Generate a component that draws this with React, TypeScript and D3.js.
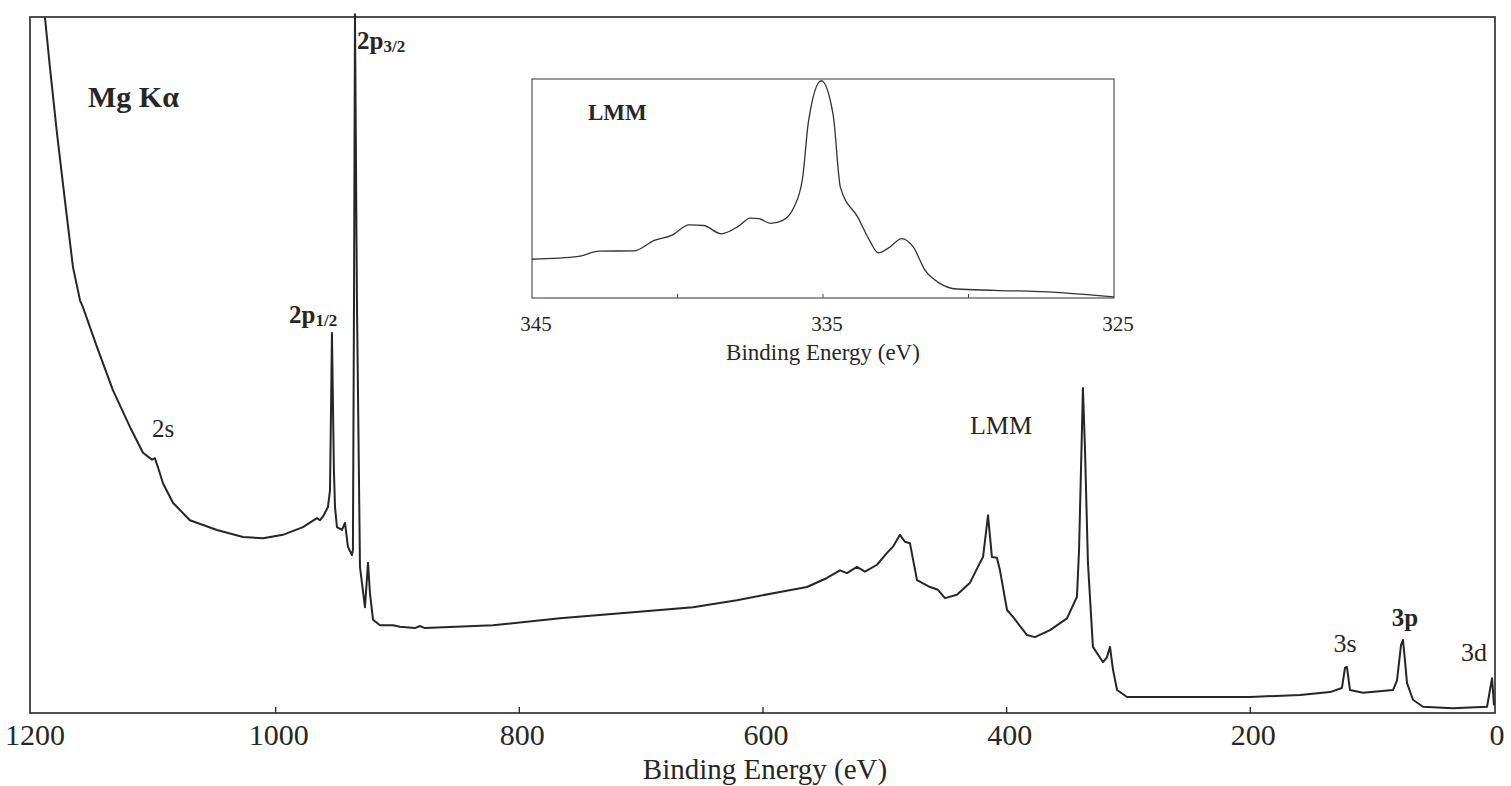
import React from "react";
import * as d3 from "d3";

// survey spectrum, binding energy (eV) vs intensity (arb., 0 = axis, 100 = frame top)
const energy = [
  1189.4, 1185.3, 1179.5, 1173.0, 1166.4, 1160.6, 1158.2, 1146.7, 1133.6, 1119.6,
  1108.9, 1101.5, 1099.1, 1096.6, 1092.5, 1084.3, 1070.4, 1048.2, 1026.8, 1010.4,
  994.0, 977.6, 966.1, 963.6, 961.2, 957.1, 955.4, 953.8, 952.2, 951.3,
  949.7, 945.6, 943.1, 940.7, 937.4, 936.6, 935.7, 934.9, 933.3, 930.8,
  926.7, 924.2, 922.6, 920.1, 914.4, 903.7, 898.0, 885.7, 881.6, 877.5,
  821.6, 766.6, 711.7, 657.5, 621.4, 586.1, 563.9, 547.5, 536.8, 531.1,
  522.9, 516.3, 506.4, 498.2, 493.3, 487.6, 483.5, 479.4, 473.6, 462.9,
  456.4, 450.6, 440.8, 430.1, 421.9, 419.4, 415.3, 412.1, 408.0, 405.5,
  399.7, 394.8, 383.3, 376.8, 364.4, 350.5, 342.3, 340.6, 339.0, 337.4,
  335.7, 333.3, 329.2, 320.9, 317.7, 315.2, 312.7, 309.4, 301.2, 241.3,
  200.3, 159.2, 134.6, 124.8, 122.3, 120.7, 118.2, 107.5, 82.9, 79.6,
  76.3, 74.7, 73.1, 71.4, 66.5, 58.3, 33.7, 5.7, 3.3, 1.6, 0,
];
const intensity = [
  100.0, 92.8, 83.3, 73.7, 64.1, 59.3, 58.3, 52.6, 46.4, 41.1,
  37.4, 36.4, 36.6, 35.3, 33.0, 30.2, 27.7, 26.3, 25.3, 25.1,
  25.6, 26.7, 28.0, 27.7, 28.2, 29.6, 32.0, 54.6, 34.9, 29.6,
  26.7, 26.3, 27.3, 23.9, 22.7, 23.4, 59.3, 100.4, 59.3, 21.0,
  15.2, 21.6, 17.2, 13.4, 12.6, 12.6, 12.4, 12.2, 12.5, 12.2,
  12.6, 13.6, 14.4, 15.2, 16.2, 17.4, 18.1, 19.4, 20.5, 20.1,
  21.0, 20.3, 21.3, 23.0, 23.9, 25.6, 24.6, 24.4, 19.1, 18.1,
  17.7, 16.5, 17.0, 18.7, 21.6, 22.4, 28.4, 22.4, 22.3, 20.5,
  14.8, 13.8, 11.2, 10.9, 11.9, 13.6, 16.7, 23.4, 34.9, 46.7,
  37.8, 21.6, 9.5, 7.3, 8.0, 9.5, 6.2, 3.3, 2.3, 2.3,
  2.3, 2.6, 3.0, 3.6, 6.5, 6.6, 3.3, 2.9, 3.3, 4.7,
  9.8, 10.5, 7.6, 4.3, 1.9, 0.9, 0.7, 0.9, 3.3, 5.0, 1.1,
];

// inset: LMM Auger region
const insetEnergy = [
  345.0, 343.4, 342.7, 341.5, 340.8, 340.2, 339.6, 339.1, 338.5, 337.9,
  337.5, 337.2, 336.8, 336.4, 336.0, 335.7, 335.5, 335.06, 334.65, 334.4,
  333.8, 333.4, 333.1, 332.7, 332.3, 331.9, 331.5, 331.0, 330.4, 329.1,
  327.0, 325.0,
];
const insetIntensity = [
  17.7, 19.0, 21.4, 21.5, 26.3, 28.6, 33.4, 33.1, 29.3, 32.8,
  36.5, 36.2, 34.1, 35.3, 41.4, 54.9, 80.5, 99.2, 83.5, 50.4,
  36.8, 26.3, 20.6, 23.3, 27.1, 23.3, 12.8, 6.8, 4.1, 3.5,
  2.6, 0.5,
];

const mainTicks = [1200, 1000, 800, 600, 400, 200, 0];
const insetTickLabels = [345, 335, 325];
const insetTickMarks = [340, 335, 330];

const W = 1511;
const H = 786;
const ink = "#262626";
const serif = "'Liberation Serif', 'Times New Roman', serif";

export default function App() {
  const x = d3.scaleLinear().domain([1200, 0]).range([32, 1494]);
  const y = d3.scaleLinear().domain([0, 100]).range([713, 17]);

  const xi = d3.scaleLinear().domain([345, 325]).range([532, 1114]);
  const yi = d3.scaleLinear().domain([0, 100]).range([298, 79]);

  const mainPath = d3
    .line<number>()
    .x((d) => x(d))
    .y((_, i) => y(intensity[i]))(energy);

  const insetPath = d3
    .line<number>()
    .x((d) => xi(d))
    .y((_, i) => yi(insetIntensity[i]))
    .curve(d3.curveMonotoneX)(insetEnergy);

  return (
    <svg
      width={W}
      height={H}
      style={{ position: "absolute", left: 0, top: 0, background: "#fff" }}
      fontFamily={serif}
    >
      {/* main frame */}
      <rect x={30} y={17} width={1465} height={696} fill="none" stroke={ink} strokeWidth={1.6} />
      {mainTicks.slice(1, -1).map((t) => (
        <line key={t} x1={x(t)} x2={x(t)} y1={713} y2={707} stroke={ink} strokeWidth={1.3} />
      ))}
      {mainTicks.map((t) => (
        <text key={t} x={x(t) + 3} y={745} textAnchor="middle" fontSize={30} fill={ink}>
          {t}
        </text>
      ))}
      <text x={765} y={779} textAnchor="middle" fontSize={29} fill={ink}>
        Binding Energy (eV)
      </text>

      <path d={mainPath ?? ""} fill="none" stroke={ink} strokeWidth={2} strokeLinejoin="round" />

      {/* peak labels */}
      <text x={88} y={107} fontSize={30} fontWeight="bold" fill={ink}>
        Mg Kα
      </text>
      <text x={357} y={49} fontSize={25} fontWeight="bold" fill={ink}>
        2p<tspan fontSize={17} dy={3}>3/2</tspan>
      </text>
      <text x={289} y={323} fontSize={25} fontWeight="bold" fill={ink}>
        2p<tspan fontSize={17} dy={3}>1/2</tspan>
      </text>
      <text x={163} y={437} textAnchor="middle" fontSize={25} fill={ink}>
        2s
      </text>
      <text x={1001} y={434} textAnchor="middle" fontSize={26} fill={ink}>
        LMM
      </text>
      <text x={1345} y={652} textAnchor="middle" fontSize={26} fill={ink}>
        3s
      </text>
      <text x={1405} y={626} textAnchor="middle" fontSize={25} fontWeight="bold" fill={ink}>
        3p
      </text>
      <text x={1474} y={661} textAnchor="middle" fontSize={26} fill={ink}>
        3d
      </text>

      {/* inset */}
      <rect x={532} y={79} width={582} height={219} fill="#fff" stroke="#444" strokeWidth={1.1} />
      {insetTickMarks.map((t) => (
        <line key={t} x1={xi(t)} x2={xi(t)} y1={298} y2={294} stroke="#444" strokeWidth={1} />
      ))}
      <path d={insetPath ?? ""} fill="none" stroke="#333" strokeWidth={1.3} />
      <text x={588} y={120} fontSize={23} fontWeight="bold" fill={ink}>
        LMM
      </text>
      {insetTickLabels.map((t) => (
        <text key={t} x={xi(t) + 4} y={331} textAnchor="middle" fontSize={21} fill={ink}>
          {t}
        </text>
      ))}
      <text x={xi(335)} y={360} textAnchor="middle" fontSize={23} fill={ink}>
        Binding Energy (eV)
      </text>
    </svg>
  );
}
